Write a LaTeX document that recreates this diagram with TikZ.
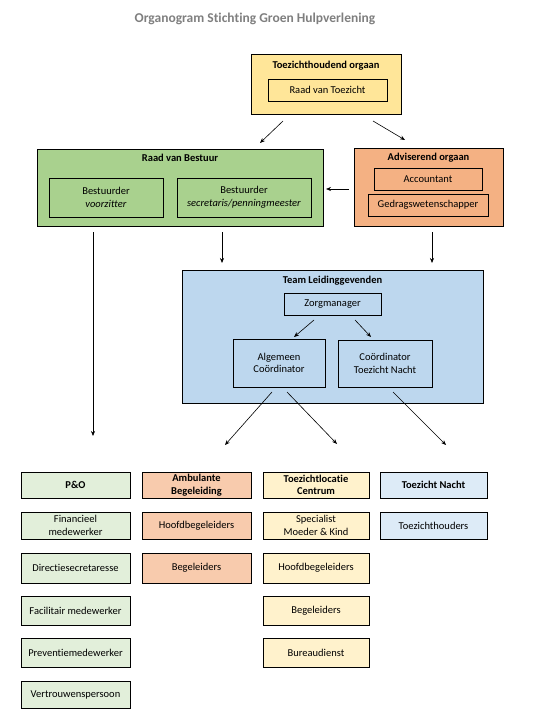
\documentclass[tikz,border=0pt]{standalone}
\usepackage{fontspec}
\setmainfont{Carlito}[Ligatures={NoCommon}]
\usetikzlibrary{arrows.meta}
\definecolor{cYel}{HTML}{FFE699}
\definecolor{cGrn}{HTML}{A9D18E}
\definecolor{cOra}{HTML}{F4B183}
\definecolor{cBlu}{HTML}{BDD7EE}
\definecolor{lGrn}{HTML}{E2EFDA}
\definecolor{lOra}{HTML}{F8CBAD}
\definecolor{lYel}{HTML}{FFF2CC}
\definecolor{lBlu}{HTML}{DDEBF7}
\definecolor{titleGray}{HTML}{7F7F7F}
\tikzset{
  box/.style={draw=black, line width=0.8pt, rectangle, inner sep=1pt, align=center,
    font=\fontsize{10.5}{12.5}\selectfont},
  ttl/.style={font=\bfseries\fontsize{10.5}{12.5}\selectfont, inner sep=0pt},
  arr/.style={-{Stealth[length=5pt,width=4pt]}, line width=0.6pt},
}
\begin{document}
\begin{tikzpicture}[x=1pt,y=-1pt]
\useasboundingbox (0,0) rectangle (532,727);
\node[font=\bfseries\fontsize{13.5}{15}\selectfont, text=titleGray] (title) at (255,19) {Organogram Stichting Groen Hulpverlening};

% Toezichthoudend orgaan
\node[box, fill=cYel, minimum width=150pt, minimum height=60pt] (toez) at (326,84) {};
\node[ttl] (toezt) at (326,66) {Toezichthoudend orgaan};
\node[box, fill=cYel, minimum width=119pt, minimum height=22pt] (rvt) at (327.5,90) {Raad van Toezicht};

% Raad van Bestuur
\node[box, fill=cGrn, minimum width=286pt, minimum height=77pt] (rvb) at (180,187.5) {};
\node[ttl] (rvbt) at (180,158) {Raad van Bestuur};
\node[box, fill=cGrn, minimum width=114pt, minimum height=39pt] (b1) at (106,197.5) {Bestuurder\\\textit{voorzitter}};
\node[box, fill=cGrn, minimum width=134pt, minimum height=39pt] (b2) at (244,197.5) {Bestuurder\\\textit{secretaris/penningmeester}};

% Adviserend orgaan
\node[box, fill=cOra, minimum width=149pt, minimum height=78pt] (adv) at (428.5,187) {};
\node[ttl] (advt) at (428.5,158) {Adviserend orgaan};
\node[box, fill=cOra, minimum width=108pt, minimum height=22pt] (acc) at (428,179) {Accountant};
\node[box, fill=cOra, minimum width=120pt, minimum height=22pt] (ged) at (428,205) {Gedragswetenschapper};

% Team Leidinggevenden
\node[box, fill=cBlu, minimum width=301pt, minimum height=133pt] (team) at (332.5,336.5) {};
\node[ttl] (teamt) at (332.5,281) {Team Leidinggevenden};
\node[box, fill=cBlu, minimum width=97pt, minimum height=22pt] (zorg) at (332.5,304) {Zorgmanager};
\node[box, fill=cBlu, minimum width=92pt, minimum height=48pt] (alg) at (279,363) {Algemeen\\Coördinator};
\node[box, fill=cBlu, minimum width=94pt, minimum height=47pt] (ctn) at (385,363.5) {Coördinator\\Toezicht Nacht};

% Bottom columns
\node[box, fill=lGrn, minimum width=109pt, minimum height=26pt] (po) at (75.5,485) {\textbf{P\&O}};
\node[box, fill=lGrn, minimum width=109pt, minimum height=27pt] (fin) at (75.5,525.5) {Financieel\\medewerker};
\node[box, fill=lGrn, minimum width=109pt, minimum height=30pt] (dir) at (75.5,568) {Directiesecretaresse};
\node[box, fill=lGrn, minimum width=109pt, minimum height=29pt] (fac) at (75.5,610.5) {Facilitair medewerker};
\node[box, fill=lGrn, minimum width=109pt, minimum height=29pt] (prev) at (75.5,652.5) {Preventiemedewerker};
\node[box, fill=lGrn, minimum width=109pt, minimum height=27pt] (vert) at (75.5,694.5) {Vertrouwenspersoon};

\node[box, fill=lOra, minimum width=109pt, minimum height=26pt] (amb) at (196.5,485) {\textbf{Ambulante}\\\textbf{Begeleiding}};
\node[box, fill=lOra, minimum width=109pt, minimum height=27pt] (ahb) at (196.5,525.5) {Hoofdbegeleiders};
\node[box, fill=lOra, minimum width=109pt, minimum height=30pt] (abg) at (196.5,568) {Begeleiders};

\node[box, fill=lYel, minimum width=106pt, minimum height=26pt] (tlc) at (316,485) {\textbf{Toezichtlocatie}\\\textbf{Centrum}};
\node[box, fill=lYel, minimum width=106pt, minimum height=27pt] (spec) at (316,525.5) {Specialist\\Moeder \& Kind};
\node[box, fill=lYel, minimum width=106pt, minimum height=30pt] (thb) at (316,568) {Hoofdbegeleiders};
\node[box, fill=lYel, minimum width=106pt, minimum height=29pt] (tbg) at (316,610.5) {Begeleiders};
\node[box, fill=lYel, minimum width=106pt, minimum height=29pt] (bur) at (316,652.5) {Bureaudienst};

\node[box, fill=lBlu, minimum width=107pt, minimum height=26pt] (tn) at (433.5,485) {\textbf{Toezicht Nacht}};
\node[box, fill=lBlu, minimum width=107pt, minimum height=27pt] (th) at (433.5,525.5) {Toezichthouders};

% Arrow end points
\coordinate (a1s) at (283,121); \coordinate (a1e) at (260,143);
\coordinate (a2s) at (373,121); \coordinate (a2e) at (405,140);
\coordinate (a3s) at (349,189); \coordinate (a3e) at (326,189);
\coordinate (a4s) at (93,232);  \coordinate (a4e) at (93,436);
\coordinate (a5s) at (222,232); \coordinate (a5e) at (222,263);
\coordinate (a6s) at (432,232); \coordinate (a6e) at (432,263);
\coordinate (a7s) at (314,320); \coordinate (a7e) at (294,337);
\coordinate (a8s) at (355,320); \coordinate (a8e) at (371,337);
\coordinate (a9s) at (272,392); \coordinate (a9e) at (225,445);
\coordinate (a10s) at (287,392); \coordinate (a10e) at (337,444);
\coordinate (a11s) at (393,392); \coordinate (a11e) at (446,445);

\foreach \i in {1,...,11} \draw[arr] (a\i s) -- (a\i e);
\end{tikzpicture}
\end{document}
